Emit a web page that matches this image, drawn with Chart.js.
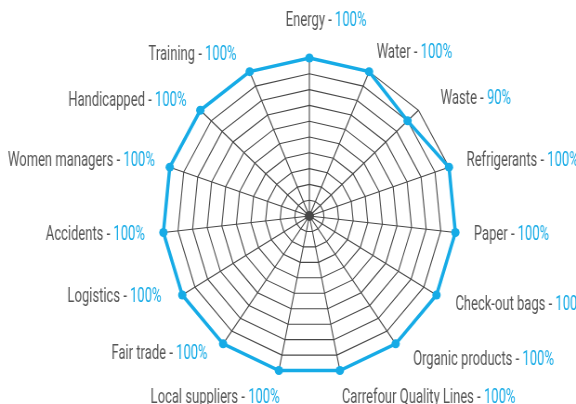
<!DOCTYPE html>
<html><head><meta charset="utf-8">
<script src="https://cdn.jsdelivr.net/npm/chart.js@4.4.1/dist/chart.umd.min.js"></script>
<style>
html,body{margin:0;padding:0;background:#fff;overflow:hidden;width:576px;height:404px}
#wrap{position:absolute;left:0;top:0;width:620px;height:404px;transform:scaleX(0.92903);transform-origin:0 0}
</style></head><body>
<div id="wrap"><canvas id="c" width="620" height="404"></canvas></div>
<script>
const categories = ['Energy','Water','Waste','Refrigerants','Paper','Check-out bags','Organic products','Carrefour Quality Lines','Local suppliers','Fair trade','Logistics','Accidents','Women managers','Handicapped','Training'];
const values = [100,100,90,100,100,100,100,100,100,100,100,100,100,100,100];
const scaleMin = 0, scaleMax = 100, scaleStep = 10;

const BLUE = '#16abe6', GRAY_TEXT = '#555555', GRID = '#484848';
const PAD = 20, K = 0.7;
// small label placement tweaks (style only), keyed by category
const labelNudge = {
  'Energy': [18, -17], 'Waste': [9, 2], 'Check-out bags': [3, 0], 'Organic products': [7, 0],
  'Carrefour Quality Lines': [-2, 8], 'Local suppliers': [5, 8],
  'Fair trade': [-5, -6], 'Logistics': [-5, -8], 'Training': [-6, 2], 'Handicapped': [0, 4], 'Women managers': [3, 0]
};

const labelPlugin = {
  id: 'twoToneLabels',
  afterDraw(chart) {
    const s = chart.scales.r, ctx = chart.ctx, R = s.drawingArea;
    ctx.save();
    ctx.fillStyle = GRID;
    ctx.beginPath(); ctx.arc(s.xCenter, s.yCenter, 5, 0, Math.PI * 2); ctx.fill();
    ctx.font = '20px Roboto';
    ctx.textBaseline = 'middle';
    const draw = (t, x, y, c) => { ctx.save(); ctx.translate(x, y); ctx.scale(K, 1); ctx.fillStyle = c; ctx.fillText(t, 0, 0); ctx.restore(); };
    categories.forEach((name, i) => {
      const p = s.getPointPosition(i, R + PAD);
      const ang = i * 2 * Math.PI / categories.length;
      const sn = Math.sin(ang);
      const a = name + ' - ', b = values[i] + '%';
      const wa = ctx.measureText(a).width * K, wb = ctx.measureText(b).width * K, w = wa + wb;
      const n = labelNudge[name] || [0, 0];
      const x0 = (sn > 0.1 ? p.x : (sn < -0.1 ? p.x - w : p.x - w / 2)) + n[0];
      const y0 = p.y + n[1];
      draw(a, x0, y0, GRAY_TEXT);
      draw(b, x0 + wa, y0, BLUE);
    });
    ctx.restore();
  }
};

new Chart(document.getElementById('c'), {
  type: 'radar',
  data: {
    labels: categories,
    datasets: [{
      data: values,
      borderColor: BLUE,
      backgroundColor: BLUE,
      borderWidth: 3.5,
      fill: false,
      pointRadius: 4.5,
      pointBackgroundColor: BLUE,
      pointBorderWidth: 0
    }]
  },
  options: {
    responsive: false,
    animation: false,
    events: [],
    layout: { padding: { left: 175, right: 129, top: 58, bottom: 30 } },
    plugins: { legend: { display: false }, tooltip: { enabled: false } },
    scales: {
      r: {
        min: scaleMin, max: scaleMax,
        ticks: { display: false, stepSize: scaleStep },
        grid: { color: GRID, lineWidth: 1.1 },
        angleLines: { color: GRID, lineWidth: 1.1 },
        pointLabels: { display: false }
      }
    }
  },
  plugins: [labelPlugin]
});
</script>
</body></html>
